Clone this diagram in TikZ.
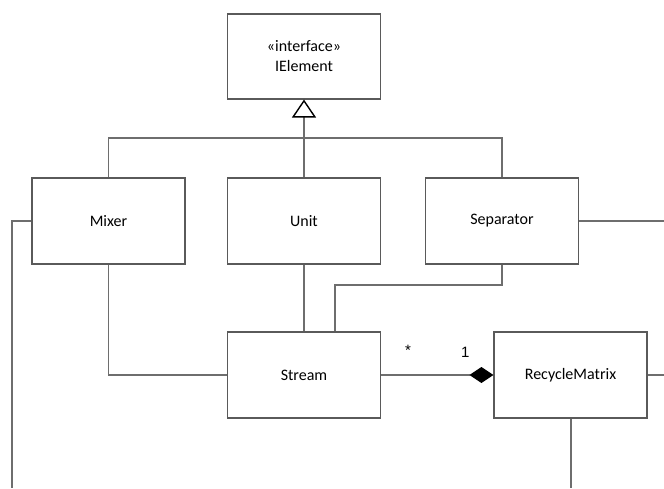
\documentclass[tikz,border=0pt]{standalone}
\usepackage{fontspec}
\setmainfont{Carlito}
\newfontfamily\multfont{Liberation Sans}
\usepackage{tikz}
\usetikzlibrary{arrows.meta}
\definecolor{boxgray}{HTML}{5A5A5A}
\definecolor{linegray}{HTML}{6E6E6E}

\begin{document}
\begin{tikzpicture}[x=1pt, y=-1pt,
    cls/.style={draw=boxgray, line width=1.1pt, fill=white, minimum width=153pt, minimum height=86pt, inner sep=0pt, align=center, font=\fontsize{16}{20}\selectfont},
    lnk/.style={draw=linegray, line width=1.1pt},
    mult/.style={font=\multfont\fontsize{15}{18}\selectfont}]
    \useasboundingbox (0,0) rectangle (664,488);

    \node[cls, minimum height=85pt] (ielem) at (304,56.5) {«interface»\\IElement};
    \node[cls] (mixer) at (108.5,221) {Mixer};
    \node[cls] (unit) at (304,221) {Unit};
    \node[cls] (sep) at (502,221) {Separator};
    \node[cls] (stream) at (304,375) {Stream};
    \node[cls] (rm) at (570.5,375) {RecycleMatrix};

    \coordinate (gen) at (304,138);
    \coordinate (sbend) at (335,285);
    \coordinate (mixout) at (12,488);
    \coordinate (sepout) at (664,221);
    \coordinate (rmout) at (664,375);
    \coordinate (rmdown) at (571,488);

    \draw[lnk, -{Triangle[open, fill=white, color=black, line width=1.4pt, width=24pt, length=18pt]}] (unit.north) -- (ielem.south);
    \draw[lnk] (mixer.north) |- (gen) -| (sep.north);

    \draw[lnk] (mixer.west) -| (mixout);
    \draw[lnk] (sep.east) -- (sepout);
    \draw[lnk] (mixer.south) |- (stream.west);
    \draw[lnk] (unit.south) -- (stream.north);
    \draw[lnk] (sep.south) |- (sbend) -- (sbend |- stream.north);

    \draw[lnk, -{Diamond[fill=black, color=black, width=16pt, length=24pt]}] (stream.east) -- (rm.west)
        node[mult, pos=0.24, above=16pt] (many) {*}
        node[mult, pos=0.75, above=14pt] (one) {1};
    \draw[lnk] (rm.east) -- (rmout);
    \draw[lnk] (rm.south -| rmdown) -- (rmdown);
\end{tikzpicture}
\end{document}
